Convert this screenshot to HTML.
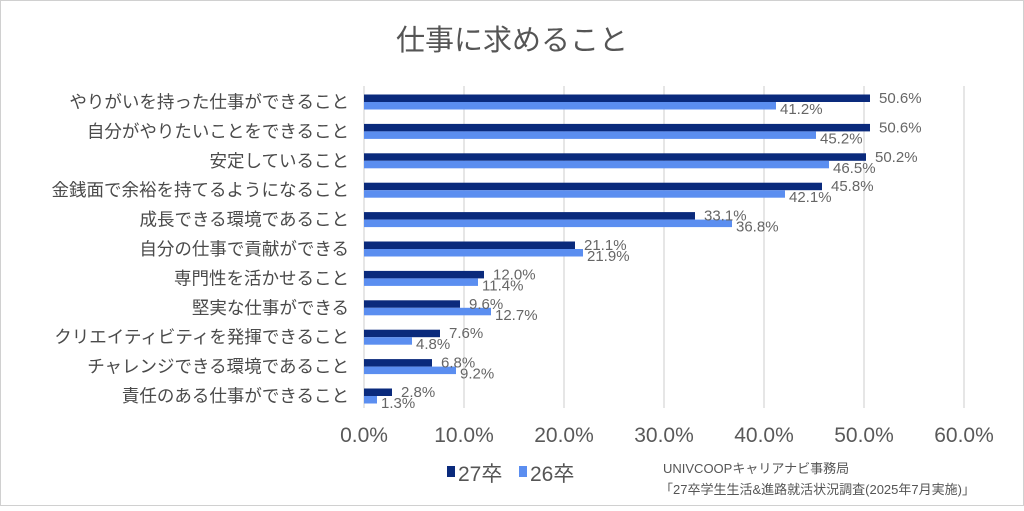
<!DOCTYPE html>
<html><head><meta charset="utf-8">
<style>
html,body{margin:0;padding:0;background:#fff;}
body{width:1024px;height:506px;overflow:hidden;font-family:"Liberation Sans","Noto Sans CJK JP",sans-serif;}
svg text{font-family:"Liberation Sans","Noto Sans CJK JP",sans-serif;}
</style></head>
<body>
<svg id="chart" width="1024" height="506" xmlns="http://www.w3.org/2000/svg">
<rect x="0.5" y="0.5" width="1023" height="505" fill="#fff" stroke="#d0d0d0"/>
<text x="512" y="50" text-anchor="middle" font-size="29" fill="#555">仕事に求めること</text>
<g id="grid"></g>
<g id="bars"></g>
<g id="labels"></g>
<g>
<rect x="447" y="466" width="8" height="11" fill="#0a2a7c"/>
<text x="458" y="481" font-size="21" fill="#555">27卒</text>
<rect x="519" y="466" width="8" height="11" fill="#5b8ef0"/>
<text x="530" y="481" font-size="21" fill="#555">26卒</text>
</g>
<text x="663" y="473" font-size="13" fill="#555">UNIVCOOPキャリアナビ事務局</text>
<text x="660" y="494" font-size="13" fill="#555">「27卒学生生活&amp;進路就活状況調査(2025年7月実施)」</text>
</svg>
<script>
const categories=["やりがいを持った仕事ができること","自分がやりたいことをできること","安定していること","金銭面で余裕を持てるようになること","成長できる環境であること","自分の仕事で貢献ができる","専門性を活かせること","堅実な仕事ができる","クリエイティビティを発揮できること","チャレンジできる環境であること","責任のある仕事ができること"];
const series27=[50.6,50.6,50.2,45.8,33.1,21.1,12.0,9.6,7.6,6.8,2.8];
const series26=[41.2,45.2,46.5,42.1,36.8,21.9,11.4,12.7,4.8,9.2,1.3];
const ticks=[0,10,20,30,40,50,60];
const NS="http://www.w3.org/2000/svg";
const x0=364,pxPer=10.0,yTop=102,step=29.4,barH=7.5;
const xs=v=>x0+v*pxPer;
const yc=i=>yTop+i*step;
function mk(tag,attrs,parent,text){const e=document.createElementNS(NS,tag);for(const k in attrs)e.setAttribute(k,attrs[k]);if(text!==undefined)e.textContent=text;parent.appendChild(e);return e;}
const grid=document.getElementById('grid'),bars=document.getElementById('bars'),labels=document.getElementById('labels');
ticks.forEach(t=>{
  const l=mk('line',{x1:xs(t),x2:xs(t),y1:86,y2:408,stroke:'#d9d9d9','stroke-width':1.3},grid);
  
  
  const tx=mk('text',{x:xs(t),y:442,'text-anchor':'middle','font-size':21,fill:'#595959'},grid,t.toFixed(1)+'%');
  
  
});
categories.forEach((c,i)=>{
  const y=yc(i);
  const cl=mk('text',{x:349,y:y+6,'text-anchor':'end','font-size':17.5,fill:'#4a4a4a'},labels,c);
  
  
  const b1=mk('rect',{x:x0,y:y-barH,width:xs(series27[i])-x0,height:barH,fill:'#0a2a7c'},bars);
  
  
  const b2=mk('rect',{x:x0,y:y,width:xs(series26[i])-x0,height:barH,fill:'#5b8ef0'},bars);
  
  
  const l1=mk('text',{x:xs(series27[i])+9,y:y+1,'font-size':15,fill:'#666'},labels,series27[i].toFixed(1)+'%');
  
  
  const l2=mk('text',{x:xs(series26[i])+4,y:y+12,'font-size':15,fill:'#666'},labels,series26[i].toFixed(1)+'%');
  
  
});
</script>
</body></html>
